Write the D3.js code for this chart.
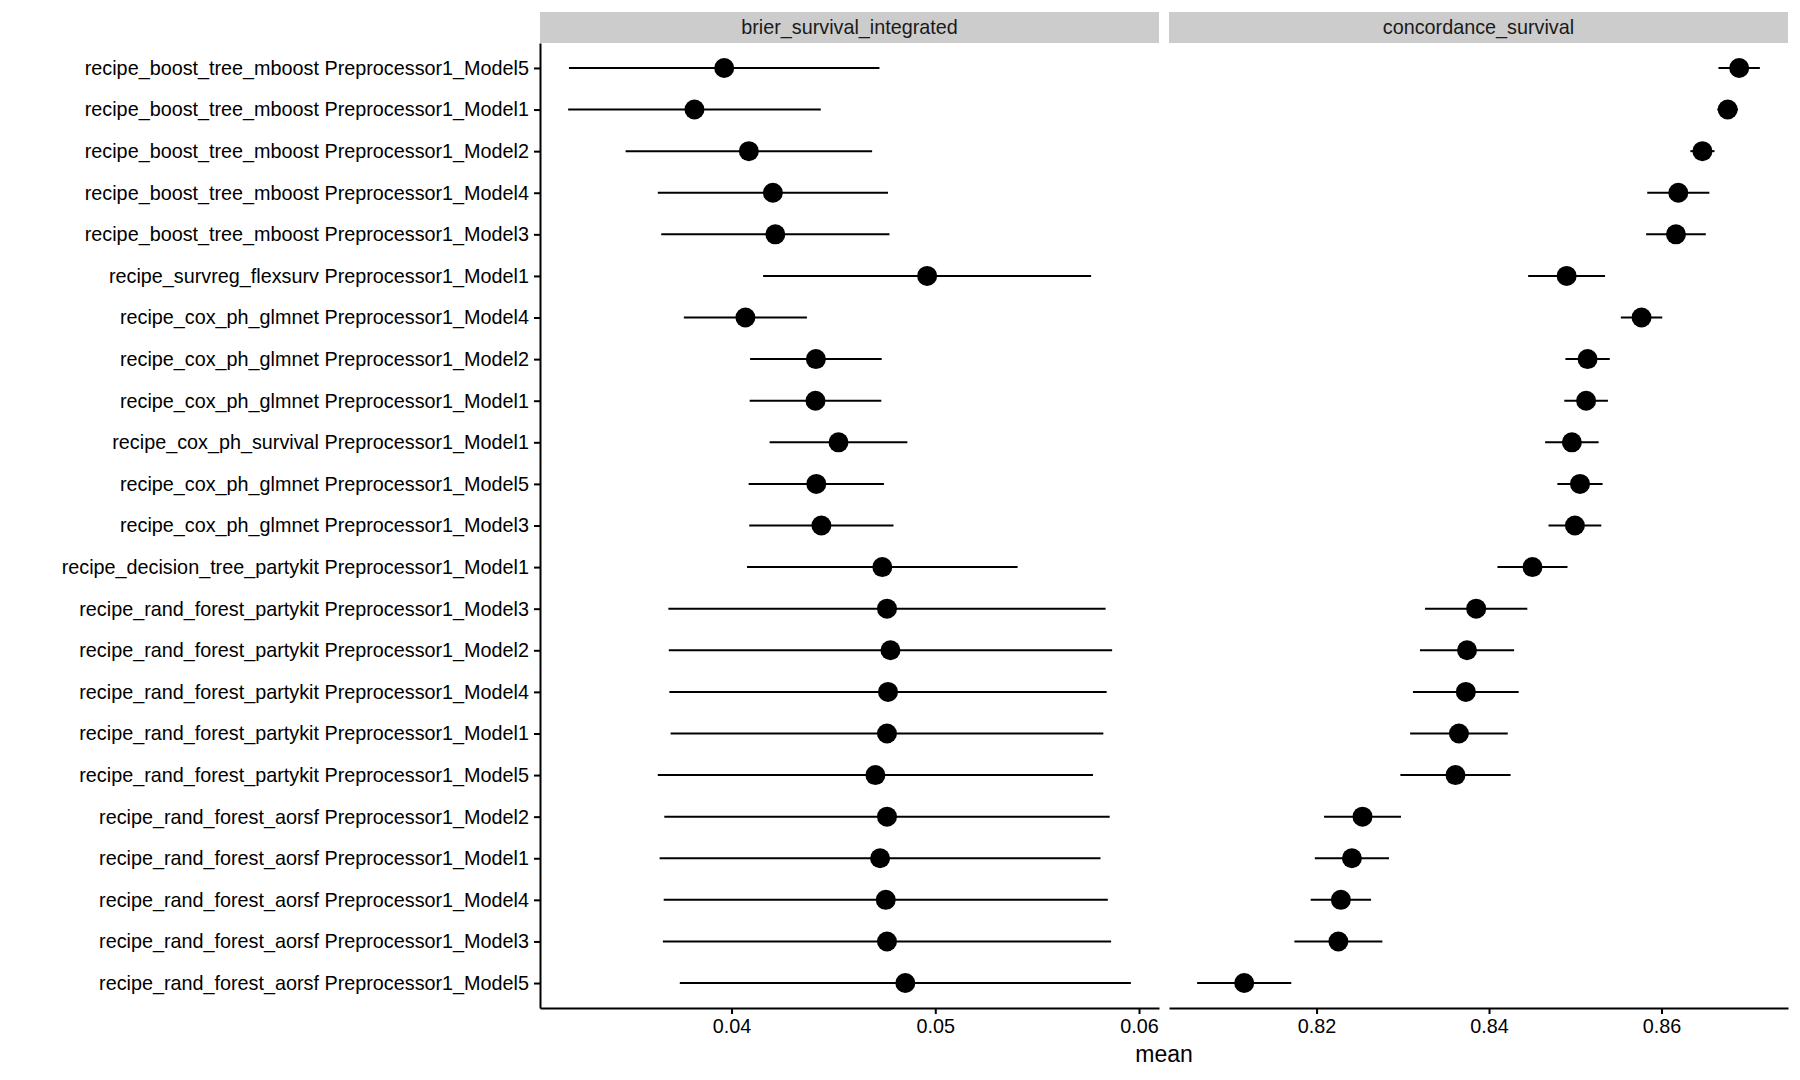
<!DOCTYPE html>
<html>
<head>
<meta charset="utf-8">
<script src="https://cdn.jsdelivr.net/npm/d3@7"></script>
<style>
body { margin: 0; background: #fff; }
text { font-family: "Liberation Sans", Arial, sans-serif; }
</style>
</head>
<body>
<svg id="chart" width="1800" height="1080"></svg>
<script>
// models, top to bottom
var models = [
	"recipe_boost_tree_mboost Preprocessor1_Model5",
	"recipe_boost_tree_mboost Preprocessor1_Model1",
	"recipe_boost_tree_mboost Preprocessor1_Model2",
	"recipe_boost_tree_mboost Preprocessor1_Model4",
	"recipe_boost_tree_mboost Preprocessor1_Model3",
	"recipe_survreg_flexsurv Preprocessor1_Model1",
	"recipe_cox_ph_glmnet Preprocessor1_Model4",
	"recipe_cox_ph_glmnet Preprocessor1_Model2",
	"recipe_cox_ph_glmnet Preprocessor1_Model1",
	"recipe_cox_ph_survival Preprocessor1_Model1",
	"recipe_cox_ph_glmnet Preprocessor1_Model5",
	"recipe_cox_ph_glmnet Preprocessor1_Model3",
	"recipe_decision_tree_partykit Preprocessor1_Model1",
	"recipe_rand_forest_partykit Preprocessor1_Model3",
	"recipe_rand_forest_partykit Preprocessor1_Model2",
	"recipe_rand_forest_partykit Preprocessor1_Model4",
	"recipe_rand_forest_partykit Preprocessor1_Model1",
	"recipe_rand_forest_partykit Preprocessor1_Model5",
	"recipe_rand_forest_aorsf Preprocessor1_Model2",
	"recipe_rand_forest_aorsf Preprocessor1_Model1",
	"recipe_rand_forest_aorsf Preprocessor1_Model4",
	"recipe_rand_forest_aorsf Preprocessor1_Model3",
	"recipe_rand_forest_aorsf Preprocessor1_Model5"
];

var metrics = ["brier_survival_integrated", "concordance_survival"];

var brierMean = [0.03964, 0.03818, 0.04085, 0.04203, 0.04215, 0.04960, 0.04068, 0.04414, 0.04412, 0.04525,
	0.04416, 0.04441, 0.04740, 0.04763, 0.04780, 0.04768, 0.04763, 0.04706, 0.04763, 0.04729,
	0.04757, 0.04763, 0.04853];
var brierHalf = [0.00762, 0.00620, 0.00605, 0.00565, 0.00560, 0.00805, 0.00302, 0.00323, 0.00323, 0.00338,
	0.00332, 0.00354, 0.00664, 0.01073, 0.01088, 0.01073, 0.01062, 0.01068, 0.01093, 0.01082,
	0.01090, 0.01100, 0.01107];

var concMean = [0.86901, 0.86768, 0.86475, 0.86195, 0.86168, 0.84900, 0.85769, 0.85143, 0.85126, 0.84961,
	0.85055, 0.84996, 0.84504, 0.83851, 0.83745, 0.83731, 0.83651, 0.83611, 0.82533, 0.82410,
	0.82282, 0.82253, 0.81161];
var concHalf = [0.00240, 0.00120, 0.00140, 0.00360, 0.00346, 0.00446, 0.00240, 0.00257, 0.00253, 0.00310,
	0.00262, 0.00306, 0.00406, 0.00593, 0.00546, 0.00613, 0.00566, 0.00639, 0.00446, 0.00430,
	0.00350, 0.00510, 0.00546];

var tickSets = [[0.04, 0.05, 0.06], [0.82, 0.84, 0.86]];

var svg = d3.select("#chart");
var plotTop = 43, plotBottom = 1008;
var panelX = [[540, 1159], [1169, 1788]];
var stripTop = 12;
var fontSz = "19.8px";

var y = d3.scalePoint().domain(models).range([plotTop, plotBottom]).padding(0.6);

function panel(idx, means, halfs){
	var rows = models.map(function(m, i){ return {model: m, mean: means[i], lo: means[i] - halfs[i], hi: means[i] + halfs[i]}; });
	var lo = d3.min(rows, function(d){ return d.lo; });
	var hi = d3.max(rows, function(d){ return d.hi; });
	var pad = (hi - lo) * 0.05;
	var x = d3.scaleLinear().domain([lo - pad, hi + pad]).range(panelX[idx]);
	var g = svg.append("g");

	// strip
	g.append("rect")
		.attr("x", panelX[idx][0]).attr("y", stripTop)
		.attr("width", panelX[idx][1] - panelX[idx][0]).attr("height", plotTop - stripTop)
		.attr("fill", "#cccccc");
	g.append("text")
		.attr("x", (panelX[idx][0] + panelX[idx][1]) / 2).attr("y", (stripTop + plotTop) / 2)
		.attr("dy", "0.35em").attr("text-anchor", "middle")
		.attr("font-size", fontSz).attr("fill", "#1a1a1a")
		.text(metrics[idx]);

	// error bars
	g.selectAll("line.bar").data(rows).enter().append("line")
		.attr("class", "bar")
		.attr("x1", function(d){ return x(d.lo); })
		.attr("x2", function(d){ return x(d.hi); })
		.attr("y1", function(d){ return y(d.model); })
		.attr("y2", function(d){ return y(d.model); })
		.attr("stroke", "#000").attr("stroke-width", 2);
	g.selectAll("circle").data(rows).enter().append("circle")
		.attr("cx", function(d){ return x(d.mean); })
		.attr("cy", function(d){ return y(d.model); })
		.attr("r", 10).attr("fill", "#000");

	// x axis
	var ax = g.append("g").attr("transform", "translate(0," + plotBottom + ")")
		.call(d3.axisBottom(x).tickValues(tickSets[idx]).tickFormat(d3.format(".2f")).tickSize(6).tickPadding(5).tickSizeOuter(0));
	ax.select(".domain").attr("stroke-width", 2);
	ax.selectAll(".tick line").attr("stroke-width", 2);
	ax.selectAll("text").attr("font-size", fontSz).attr("fill", "#000").attr("font-family", "Liberation Sans, Arial, sans-serif");

	if(idx == 0){
		var ay = g.append("g").attr("transform", "translate(" + panelX[0][0] + ",0)")
			.call(d3.axisLeft(y).tickSize(6).tickPadding(5).tickSizeOuter(0));
		ay.select(".domain").attr("stroke-width", 2);
		ay.selectAll(".tick line").attr("stroke-width", 2);
		ay.selectAll("text").attr("font-size", fontSz).attr("fill", "#000").attr("font-family", "Liberation Sans, Arial, sans-serif");
	}
}

panel(0, brierMean, brierHalf);
panel(1, concMean, concHalf);

svg.append("text")
	.attr("x", (panelX[0][0] + panelX[1][1]) / 2).attr("y", 1062)
	.attr("text-anchor", "middle").attr("font-size", "23px").attr("fill", "#000")
	.text("mean");
</script>
</body>
</html>
